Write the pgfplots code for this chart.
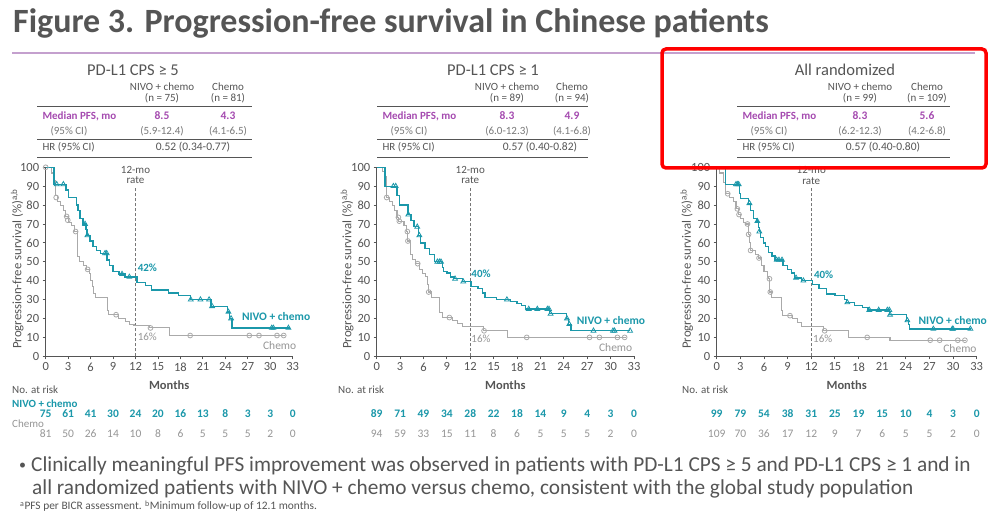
\documentclass[border=0pt]{standalone}
\usepackage{pgfplots}
\pgfplotsset{compat=1.18}
\usepackage{fontspec}
\setmainfont{Carlito}
\definecolor{nivo}{RGB}{27,152,170}
\definecolor{chemo}{RGB}{170,170,170}
\definecolor{chemotxt}{RGB}{150,150,150}
\definecolor{purp}{RGB}{165,75,176}
\definecolor{txt}{RGB}{85,85,85}
\definecolor{ltxt}{RGB}{120,120,120}
\definecolor{tline}{RGB}{196,160,206}
\newcommand{\fs}[1]{\fontsize{#1}{#1}\selectfont}

\pgfplotsset{
  kmaxis/.style={
    scale only axis, height=189pt, xmin=0, xmax=33, ymin=0, ymax=100,
    axis lines=left, axis line style={-, txt, line width=0.8pt},
    xtick={0,3,...,33}, ytick={0,10,...,100},
    tick align=outside, major tick length=3pt, tick style={txt, line width=0.8pt},
    /pgf/number format/assume math mode=true,
    tick label style={font=\fs{12.5}, text=txt},
    clip=false,
    ylabel={Progression-free survival (\%)\textsuperscript{a,b}},
    ylabel style={at={(axis description cs:-0.115,0.462)}, anchor=center, font=\fs{12.8}, text=txt},
    xlabel={Months},
    xlabel style={at={(axis description cs:0.5,0)}, yshift=-29pt, anchor=center, font=\fs{12.5}\bfseries, text=txt},
  },
  nivoline/.style={const plot, nivo, line width=1.3pt, mark=none},
  chemoline/.style={const plot, chemo, line width=1.1pt, mark=none},
  nivocens/.style={only marks, nivo, mark=triangle, mark size=2.8pt, mark options={line width=0.8pt}},
  chemocens/.style={only marks, chemo, mark=o, mark size=2.4pt, mark options={line width=0.8pt}},
  twelve/.style={txt!80, dash pattern=on 3pt off 2pt, line width=0.8pt, mark=none},
}

% table rows (tikz y)
\def\yH{448}\def\yCa{431}\def\yCb{420}\def\yLa{412}\def\yM{402}\def\yCI{387}\def\yLb{379}\def\yHR{371}\def\yLc{361}
\newcommand{\kmtable}[8]{% #1 header x, #2 header, #3 left, #4 c1, #5 c2, #6 right, #7 n1, #8 n2
  \node[font=\fs{16.5}, text=txt] at (#1,\yH) {#2};
  \node[font=\fs{11}, text=txt] at (#4,\yCa) {NIVO + chemo};
  \node[font=\fs{11}, text=txt] at (#4,\yCb) {(n = #7)};
  \node[font=\fs{11}, text=txt] at (#5,\yCa) {Chemo};
  \node[font=\fs{11}, text=txt] at (#5,\yCb) {(n = #8)};
  \draw[txt, line width=0.9pt] (#3,\yLa) -- (#6,\yLa);
  \draw[txt, line width=0.9pt] (#3,\yLb) -- (#6,\yLb);
  \draw[txt, line width=0.9pt] (#3,\yLc) -- (#6,\yLc);
  \node[font=\fs{11}\bfseries, text=purp, anchor=west] at (#3+2,\yM) {Median PFS, mo};
  \node[font=\fs{11}, text=ltxt, anchor=west] at (#3+10,\yCI) {(95\% CI)};
  \node[font=\fs{11}, text=txt, anchor=west] at (#3+2,\yHR) {HR (95\% CI)};
}
\newcommand{\kmvalues}[8]{% c1, c2, med1, med2, ci1, ci2, hr x, hr text
  \node[font=\fs{11.5}\bfseries, text=purp] at (#1,\yM) {#3};
  \node[font=\fs{11.5}\bfseries, text=purp] at (#2,\yM) {#4};
  \node[font=\fs{11}, text=ltxt] at (#1,\yCI) {#5};
  \node[font=\fs{11}, text=ltxt] at (#2,\yCI) {#6};
  \node[font=\fs{11.5}, text=txt] at (#7,\yHR) {#8};
}

\begin{document}
\begin{tikzpicture}[x=1pt,y=1pt]
\fill[white] (0,0) rectangle (993,518);
\useasboundingbox (0,0) rectangle (993,518);
\coordinate (o1) at (45.7,161.7);
\coordinate (o2) at (376.7,161.7);
\coordinate (o3) at (716.7,161.7);

% title
\node[anchor=base west, font=\fs{34}\bfseries, text=txt, inner sep=0] at (13,485) {Figure 3. Progression-free survival in Chinese patients};
\draw[tline, line width=2pt] (12,465) -- (975,465);

% tables
\kmtable{133}{PD-L1 CPS ≥ 5}{37}{162}{228}{252}{75}{81}
\kmvalues{162}{228}{8.5}{4.3}{(5.9-12.4)}{(4.1-6.5)}{193}{0.52 (0.34-0.77)}
\kmtable{493}{PD-L1 CPS ≥ 1}{377}{507}{572}{588}{89}{94}
\kmvalues{507}{572}{8.3}{4.9}{(6.0-12.3)}{(4.1-6.8)}{540}{0.57 (0.40-0.82)}
\kmtable{845}{All randomized}{737}{860}{927}{950}{99}{109}
\kmvalues{860}{927}{8.3}{5.6}{(6.2-12.3)}{(4.2-6.8)}{883}{0.57 (0.40-0.80)}

% ---------- Panel 1 ----------
\begin{axis}[kmaxis, width=247pt, at={(o1)}, anchor=south west]
\addplot[twelve] coordinates {(12,0) (12,89.5)};
\addplot[chemoline] coordinates {(0,100) (0.8,97) (1.1,93) (1.3,85) (1.6,82) (2.0,80) (2.4,77) (2.7,74) (3.0,71) (3.5,69) (3.9,66) (4.2,53) (4.5,50) (5.0,48) (5.4,46) (5.8,44) (6.0,40) (6.2,37) (6.4,33) (6.7,31) (8.2,24) (8.4,22) (9.7,20) (10.7,18.5) (11.2,17) (11.8,16.5) (13.9,15) (16.6,11) (32,11)};
\addplot[chemocens] coordinates {(0,100) (1.4,84) (2.8,74) (2.95,72) (4.0,66) (5.6,46) (9.4,22) (14,15) (19.3,11) (27.2,11) (28.5,11) (30.9,11) (31.8,11)};
\addplot[nivoline] coordinates {(0,100) (1.1,91) (2.7,88) (3.0,84) (4.1,80) (4.3,77) (4.6,73) (5.0,70) (5.4,67) (5.5,64) (5.9,61) (6.3,58) (6.8,56) (7.3,54.5) (8.2,51) (8.5,48) (9.0,45) (9.8,43.5) (10.6,42) (12.2,39) (13.3,37.5) (14.1,35) (16.4,33.5) (17.7,32) (19.3,30) (22.1,26.5) (24.3,23.5) (24.6,20) (24.9,15) (32.6,15)};
\addplot[nivocens] coordinates {(1.47,91) (2.36,91) (5.26,70) (5.57,64) (7.93,54.5) (8.15,54.5) (10.2,43.5) (11.18,42) (19.38,30) (20.67,30) (21.83,30) (22.23,26.5) (24.41,23.5) (24.77,20) (30.2,15) (30.42,15) (32.43,15)};
\node[font=\fs{11}, text=txt] at (axis cs:12,98.6) {12-mo};
\node[font=\fs{11}, text=txt] at (axis cs:12,93.3) {rate};
\node[anchor=west, font=\fs{11}\bfseries, text=nivo, inner sep=1pt] at (axis cs:12.15,47) {42\%};
\node[anchor=west, font=\fs{11}, text=chemotxt, inner sep=1pt] at (axis cs:12.15,10.4) {16\%};
\node[anchor=west, font=\fs{11.5}\bfseries, text=nivo, inner sep=0] at (axis cs:26.2,21.3) {NIVO + chemo};
\node[anchor=east, font=\fs{11.5}, text=chemotxt, inner sep=0] at (axis cs:33.5,5.5) {Chemo};
\end{axis}

% ---------- Panel 2 ----------
\begin{axis}[kmaxis, width=257.3pt, at={(o2)}, anchor=south west]
\addplot[twelve] coordinates {(12,0) (12,89.5)};
\addplot[chemoline] coordinates {(0,100) (0.8,98) (1.0,95) (1.2,88) (1.3,84) (1.6,82) (2.0,80) (2.3,77) (2.6,73.5) (2.85,71.5) (3.5,69) (3.85,66) (3.98,61) (4.3,54) (4.6,51) (5.0,49) (5.5,46) (5.9,44) (6.3,42) (6.5,38) (6.6,34) (7.0,31) (8.1,23) (8.4,20.5) (9.7,19) (10.4,17.5) (11.0,16) (13.7,13.5) (16.8,10) (32,10)};
\addplot[chemocens] coordinates {(1.28,84) (2.78,73.5) (2.9,71.5) (3.93,66) (4.0,61) (5.26,49) (6.67,34) (9.32,20.5) (13.77,13.5) (19.24,10) (27.3,10) (28.56,10) (30.87,10) (31.8,10)};
\addplot[nivoline] coordinates {(0,100) (1.07,90) (2.6,85) (2.9,80) (4.0,75) (4.4,72) (4.8,68.5) (5.35,64) (5.6,60) (6.2,57) (6.8,54) (7.4,50) (8.4,47) (8.6,45) (9.0,44) (9.5,42) (9.9,41) (11.0,39.5) (12.1,37) (13.0,36) (13.6,33.5) (13.9,31) (15.4,30) (17.2,29) (18.0,28) (18.6,27) (19.1,25) (22.2,22.5) (24.3,20) (24.6,17) (24.9,13.5) (32.5,13.5)};
\addplot[nivocens] coordinates {(2.14,90) (2.44,90) (4.06,75) (5.2,68.5) (5.47,64) (7.78,50) (8.04,50) (8.25,50) (10.05,41) (11.1,39.5) (16.7,30) (19.5,25) (20.6,25) (21.9,25) (22.1,25) (22.3,22.5) (24.4,20) (24.7,17) (27.8,13.5) (30.3,13.5) (30.5,13.5) (32.5,13.5)};
\node[font=\fs{11}, text=txt] at (axis cs:12,98.6) {12-mo};
\node[font=\fs{11}, text=txt] at (axis cs:12,93.3) {rate};
\node[anchor=west, font=\fs{11}\bfseries, text=nivo, inner sep=1pt] at (axis cs:12.0,43.6) {40\%};
\node[anchor=west, font=\fs{11}, text=chemotxt, inner sep=1pt] at (axis cs:12.0,9.2) {16\%};
\node[anchor=west, font=\fs{11.5}\bfseries, text=nivo, inner sep=0] at (axis cs:25.65,19) {NIVO + chemo};
\node[anchor=east, font=\fs{11.5}, text=chemotxt, inner sep=0] at (axis cs:32.8,4.6) {Chemo};
\end{axis}

% ---------- Panel 3 ----------
\begin{axis}[kmaxis, width=260pt, at={(o3)}, anchor=south west]
\addplot[twelve] coordinates {(12,0) (12,89.5)};
\addplot[chemoline] coordinates {(0,100) (0.4,97) (0.85,92) (1.1,86) (1.6,84) (2.1,82) (2.45,78) (2.75,75) (3.0,73) (3.4,71) (3.7,70) (4.0,64.5) (4.15,60) (4.25,56) (4.9,54) (5.3,52) (5.7,48) (6.0,45) (6.4,42) (6.6,41) (6.75,34) (7.0,31) (8.25,24) (8.4,21.5) (9.6,20) (10.2,18) (10.8,16) (13.5,13.5) (16.7,10) (22.0,8.5) (31.7,8.5)};
\addplot[chemocens] coordinates {(1.4,86) (2.62,78) (2.83,75) (3.9,70) (4.05,64.5) (4.3,56) (5.37,52) (6.7,41) (6.8,34) (9.3,21.5) (13.7,13.5) (19.1,10) (27.1,8.5) (28.3,8.5) (30.6,8.5) (31.5,8.5)};
\addplot[nivoline] coordinates {(0,100) (1.1,91) (2.85,86) (3.05,83.5) (4.0,81) (4.3,77) (4.7,73) (5.1,71.5) (5.3,68) (5.4,66) (5.6,63) (5.9,60) (6.2,58) (6.6,55) (7.0,53) (7.4,51) (8.4,48) (9.0,46) (9.5,44) (9.9,41.5) (10.8,40) (12.2,38) (13.0,36) (13.9,33) (15.0,32) (16.2,30) (16.5,28.5) (17.5,27) (18.5,26) (19.2,24.5) (21.95,22) (24.1,19) (24.3,17) (24.5,14.5) (32.3,14.5)};
\addplot[nivocens] coordinates {(2.45,91) (2.62,91) (2.79,91) (4.15,81) (5.16,71.5) (5.41,66) (7.61,51) (7.9,51) (8.29,51) (10.07,41.5) (11.0,40) (16.58,28.5) (19.37,24.5) (20.56,24.5) (21.66,24.5) (21.91,24.5) (22.0,22) (24.2,19) (27.5,14.5) (29.9,14.5) (30.0,14.5) (32.2,14.5)};
\node[font=\fs{11}, text=txt] at (axis cs:12,98.6) {12-mo};
\node[font=\fs{11}, text=txt] at (axis cs:12,92.8) {rate};
\node[anchor=west, font=\fs{11}\bfseries, text=nivo, inner sep=1pt] at (axis cs:12.2,43) {40\%};
\node[anchor=west, font=\fs{11}, text=chemotxt, inner sep=1pt] at (axis cs:12.1,9) {16\%};
\node[anchor=west, font=\fs{11.5}\bfseries, text=nivo, inner sep=0] at (axis cs:25.6,18.7) {NIVO + chemo};
\node[anchor=east, font=\fs{11.5}, text=chemotxt, inner sep=0] at (axis cs:33,3.9) {Chemo};
\end{axis}

% ---------- numbers at risk ----------
\node[anchor=west, font=\fs{11}, text=txt, inner sep=0] at (12,128) {No. at risk};
\node[anchor=west, font=\fs{11}, text=txt, inner sep=0] at (338,128) {No. at risk};
\node[anchor=west, font=\fs{11}, text=txt, inner sep=0] at (682,128) {No. at risk};
\node[anchor=west, font=\fs{11}\bfseries, text=nivo, inner sep=0] at (12,114) {NIVO + chemo};
\node[anchor=west, font=\fs{11}, text=chemotxt, inner sep=0] at (12,94) {Chemo};
\foreach \m/\n in {0/75,3/61,6/41,9/30,12/24,15/20,18/16,21/13,24/8,27/3,30/3,33/0}
  \node[font=\fs{11.5}\bfseries, text=nivo] at ({45.7+\m*7.485},104) {\n};
\foreach \m/\n in {0/81,3/50,6/26,9/14,12/10,15/8,18/6,21/5,24/5,27/5,30/2,33/0}
  \node[font=\fs{11.5}, text=chemotxt] at ({45.7+\m*7.485},84) {\n};
\foreach \m/\n in {0/89,3/71,6/49,9/34,12/28,15/22,18/18,21/14,24/9,27/4,30/3,33/0}
  \node[font=\fs{11.5}\bfseries, text=nivo] at ({376.7+\m*7.797},104) {\n};
\foreach \m/\n in {0/94,3/59,6/33,9/15,12/11,15/8,18/6,21/5,24/5,27/5,30/2,33/0}
  \node[font=\fs{11.5}, text=chemotxt] at ({376.7+\m*7.797},84) {\n};
\foreach \m/\n in {0/99,3/79,6/54,9/38,12/31,15/25,18/19,21/15,24/10,27/4,30/3,33/0}
  \node[font=\fs{11.5}\bfseries, text=nivo] at ({716.7+\m*7.879},104) {\n};
\foreach \m/\n in {0/109,3/70,6/36,9/17,12/12,15/9,18/7,21/6,24/5,27/5,30/2,33/0}
  \node[font=\fs{11.5}, text=chemotxt] at ({716.7+\m*7.879},84) {\n};

% ---------- bullet and footnote ----------
\node[anchor=base west, font=\fs{14}, text=txt, inner sep=0] at (19,48) {•};
\node[anchor=base west, font=\fs{21.3}, text=txt, inner sep=0] at (31,46) {Clinically meaningful PFS improvement was observed in patients with PD-L1 CPS ≥ 5 and PD-L1 CPS ≥ 1 and in};
\node[anchor=base west, font=\fs{21.3}, text=txt, inner sep=0] at (32,23) {all randomized patients with NIVO + chemo versus chemo, consistent with the global study population};
\node[anchor=base west, font=\fs{11.4}, text=txt, inner sep=0] at (20,8) {\textsuperscript{a}PFS per BICR assessment. \textsuperscript{b}Minimum follow-up of 12.1 months.};

% red highlight box
\draw[red, line width=3.5pt, rounded corners=4pt] (662,469) rectangle (986,350);
\end{tikzpicture}
\end{document}
